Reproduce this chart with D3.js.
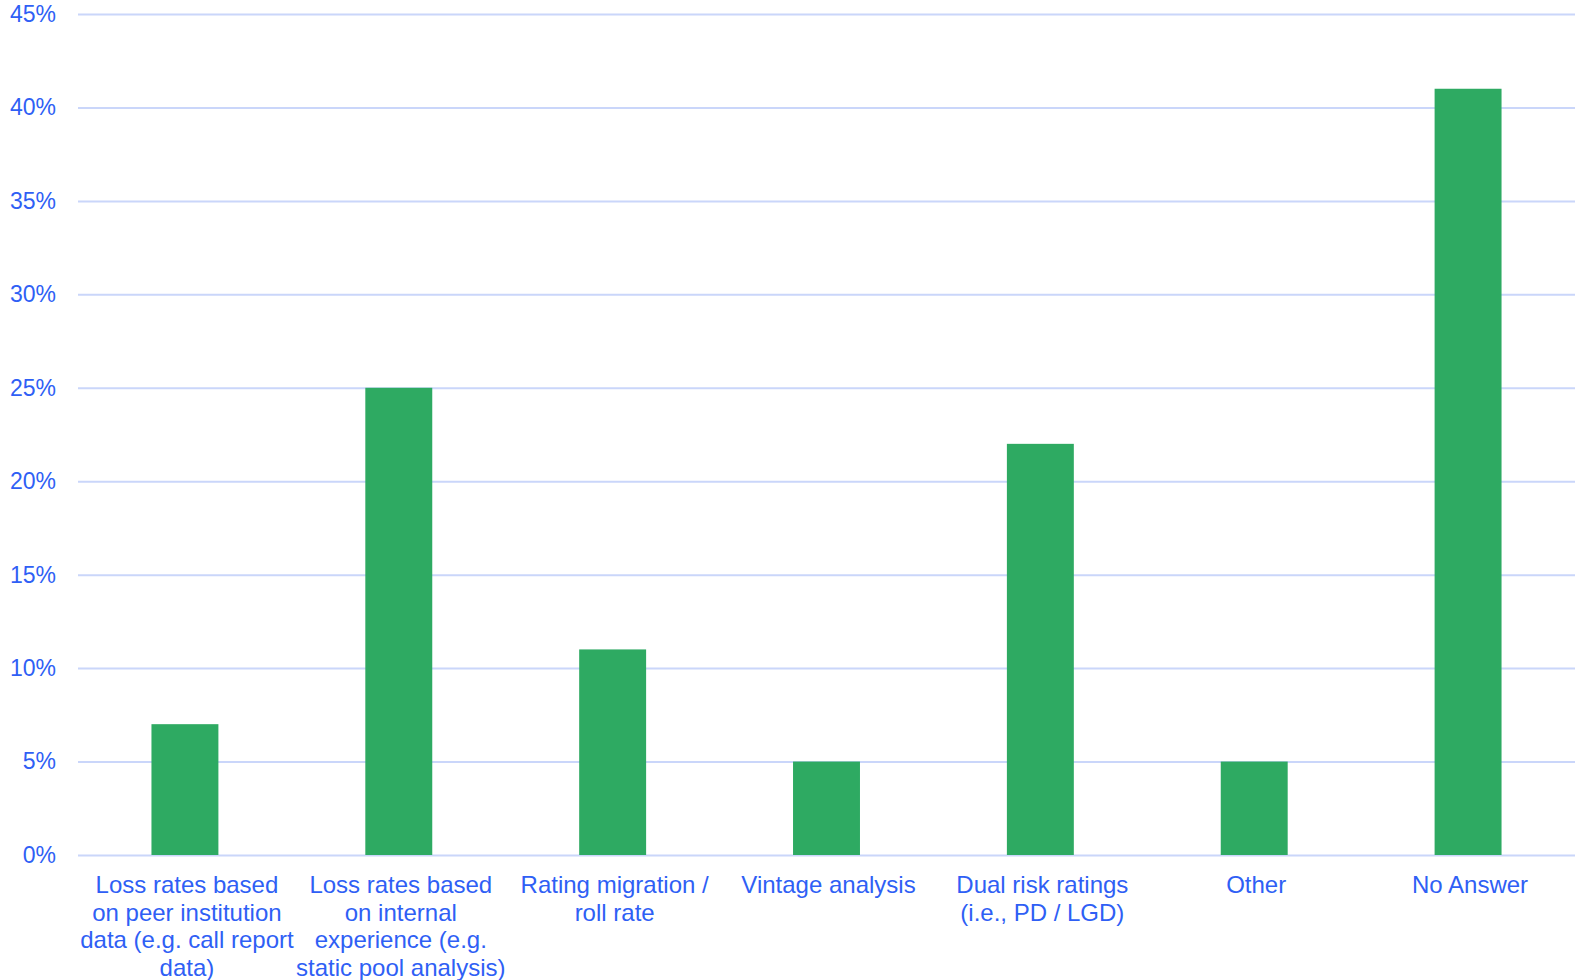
<!DOCTYPE html>
<html>
<head>
<meta charset="utf-8">
<script src="https://cdn.jsdelivr.net/npm/d3@7"></script>
<style>
  html, body { margin: 0; padding: 0; background: #ffffff; }
  svg text { font-family: "Liberation Sans", Arial, sans-serif; }
</style>
</head>
<body>
<svg id="chart" width="1575" height="980"></svg>
<script>
// Share of respondents by loss-estimation methodology
const categories = [
  "Loss rates based\non peer institution\ndata (e.g. call report\ndata)",
  "Loss rates based\non internal\nexperience (e.g.\nstatic pool analysis)",
  "Rating migration /\nroll rate",
  "Vintage analysis",
  "Dual risk ratings\n(i.e., PD / LGD)",
  "Other",
  "No Answer"
];
const shares = [7, 25, 11, 5, 22, 5, 41];
const yTicks = [0, 5, 10, 15, 20, 25, 30, 35, 40, 45];

const textColor = "#2f5ff5";
const gridColor = "#cad6fa";
const barColor = "#2eaa62";

const svg = d3.select("#chart");
const plot = { left: 78, right: 1575, top: 14, bottom: 855 };

const x = d3.scaleBand()
  .domain(categories)
  .range([plot.left, plot.right])
  .paddingInner(0.687)
  .paddingOuter(0.3435);

const y = d3.scaleLinear()
  .domain([0, 45])
  .range([plot.bottom, plot.top]);

// Horizontal gridlines with percentage labels
const yAxis = d3.axisLeft(y)
  .tickValues(yTicks)
  .tickFormat(d => d + "%")
  .tickSize(-(plot.right - plot.left))
  .tickPadding(22);

const gy = svg.append("g")
  .attr("transform", `translate(${plot.left},0)`)
  .call(yAxis);
gy.select(".domain").remove();
gy.selectAll(".tick line")
  .attr("stroke", gridColor)
  .attr("stroke-width", 2);
gy.selectAll(".tick text")
  .attr("fill", textColor)
  .attr("font-size", 23)
  .attr("font-family", "Liberation Sans, Arial, sans-serif");

// Bars
svg.append("g")
  .selectAll("rect")
  .data(shares)
  .join("rect")
  .attr("x", (d, i) => x(categories[i]))
  .attr("width", x.bandwidth())
  .attr("y", d => y(d))
  .attr("height", d => y(0) - y(d))
  .attr("fill", barColor);

// Category labels, one tspan per line
const labels = svg.append("g")
  .selectAll("text")
  .data(categories)
  .join("text")
  .attr("text-anchor", "middle")
  .attr("fill", textColor)
  .attr("font-size", 24)
  .attr("x", d => x(d) + x.bandwidth() / 2 + 2)
  .attr("y", 893);

labels.selectAll("tspan")
  .data(d => d.split("\n").map(t => ({ t, cx: x(d) + x.bandwidth() / 2 + 2 })))
  .join("tspan")
  .attr("x", d => d.cx)
  .attr("dy", (d, i) => i === 0 ? 0 : 27.5)
  .text(d => d.t);
</script>
</body>
</html>
